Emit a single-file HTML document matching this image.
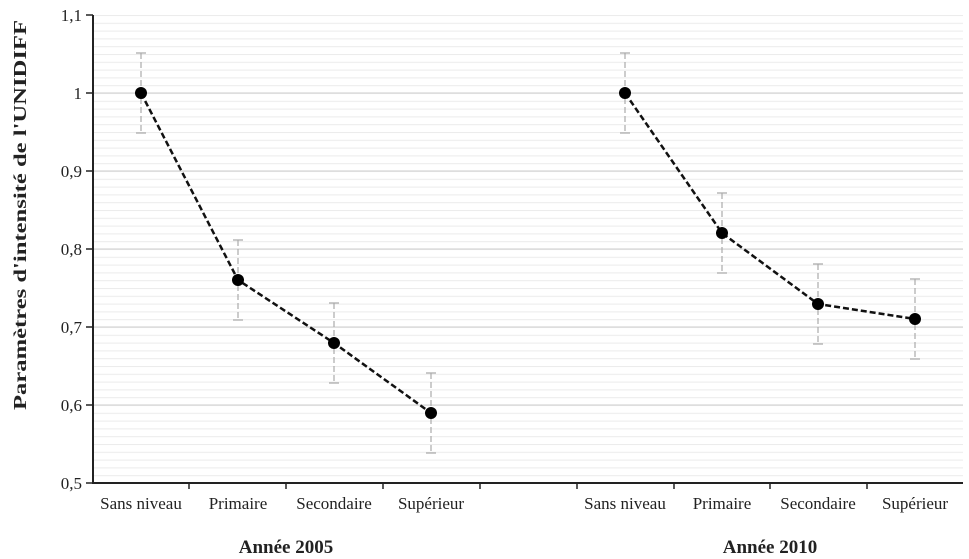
<!DOCTYPE html>
<html><head><meta charset="utf-8"><style>body{margin:0;background:#fff}svg{display:block}text{font-family:"Liberation Serif",serif}</style></head>
<body>
<svg width="969" height="559" xmlns="http://www.w3.org/2000/svg">
<defs>
<pattern id="gp" x="0" y="15" width="10" height="7.8" patternUnits="userSpaceOnUse">
<line x1="0" x2="10" y1="0.5" y2="0.5" stroke="#ebebeb" stroke-width="1"/>
</pattern>
</defs>
<rect x="93" y="15" width="870" height="468" fill="url(#gp)"/>
<g stroke="#d6d6d6" stroke-width="1.2">
<line x1="93" x2="963" y1="93" y2="93"/><line x1="93" x2="963" y1="171" y2="171"/><line x1="93" x2="963" y1="249" y2="249"/><line x1="93" x2="963" y1="327" y2="327"/><line x1="93" x2="963" y1="405" y2="405"/>
</g>
<line x1="93" y1="15" x2="93" y2="484" stroke="#222" stroke-width="2"/>
<line x1="92" y1="483" x2="963" y2="483" stroke="#222" stroke-width="2"/>
<g stroke="#222" stroke-width="1.5">
<line x1="86" x2="93" y1="15" y2="15"/><line x1="86" x2="93" y1="93" y2="93"/><line x1="86" x2="93" y1="171" y2="171"/><line x1="86" x2="93" y1="249" y2="249"/><line x1="86" x2="93" y1="327" y2="327"/><line x1="86" x2="93" y1="405" y2="405"/><line x1="86" x2="93" y1="483" y2="483"/>
<line x1="189" x2="189" y1="483" y2="489"/><line x1="286" x2="286" y1="483" y2="489"/><line x1="383" x2="383" y1="483" y2="489"/><line x1="480" x2="480" y1="483" y2="489"/><line x1="577" x2="577" y1="483" y2="489"/><line x1="674" x2="674" y1="483" y2="489"/><line x1="770" x2="770" y1="483" y2="489"/><line x1="867" x2="867" y1="483" y2="489"/>
</g>
<g font-size="17" text-anchor="end" fill="#222">
<text x="82" y="21">1,1</text><text x="82" y="99">1</text><text x="82" y="177">0,9</text><text x="82" y="255">0,8</text><text x="82" y="333">0,7</text><text x="82" y="411">0,6</text><text x="82" y="489">0,5</text>
</g>
<text transform="translate(26,215) rotate(-90)" font-size="18" font-weight="bold" text-anchor="middle" textLength="390" lengthAdjust="spacingAndGlyphs" fill="#222">Paramètres d'intensité de l'UNIDIFF</text>
<g font-size="17" text-anchor="middle" fill="#222">
<text x="141" y="509">Sans niveau</text><text x="238" y="509">Primaire</text><text x="334" y="509">Secondaire</text><text x="431" y="509">Supérieur</text>
<text x="625" y="509">Sans niveau</text><text x="722" y="509">Primaire</text><text x="818" y="509">Secondaire</text><text x="915" y="509">Supérieur</text>
</g>
<g font-size="19" font-weight="bold" text-anchor="middle" fill="#222">
<text x="286" y="553">Année 2005</text><text x="770" y="553">Année 2010</text>
</g>
<g stroke="#aaa" stroke-width="1.2" stroke-dasharray="6,3">
<line x1="141" x2="141" y1="53" y2="133"/><line x1="238" x2="238" y1="240" y2="320"/><line x1="334" x2="334" y1="303" y2="383"/><line x1="431" x2="431" y1="373" y2="453"/>
<line x1="625" x2="625" y1="53" y2="133"/><line x1="722" x2="722" y1="193" y2="273"/><line x1="818" x2="818" y1="264" y2="344"/><line x1="915" x2="915" y1="279" y2="359"/>
</g>
<g stroke="#aaa" stroke-width="1.2">
<path d="M136 53h10M136 133h10M233 240h10M233 320h10M329 303h10M329 383h10M426 373h10M426 453h10M620 53h10M620 133h10M717 193h10M717 273h10M813 264h10M813 344h10M910 279h10M910 359h10"/>
</g>
<polyline points="141,93 238,280 334,343 431,413" fill="none" stroke="#111" stroke-width="2.5" stroke-dasharray="6,3"/>
<polyline points="625,93 722,233 818,304 915,319" fill="none" stroke="#111" stroke-width="2.5" stroke-dasharray="6,3"/>
<g fill="#000">
<circle cx="141" cy="93" r="6"/><circle cx="238" cy="280" r="6"/><circle cx="334" cy="343" r="6"/><circle cx="431" cy="413" r="6"/>
<circle cx="625" cy="93" r="6"/><circle cx="722" cy="233" r="6"/><circle cx="818" cy="304" r="6"/><circle cx="915" cy="319" r="6"/>
</g>
</svg>
</body></html>
